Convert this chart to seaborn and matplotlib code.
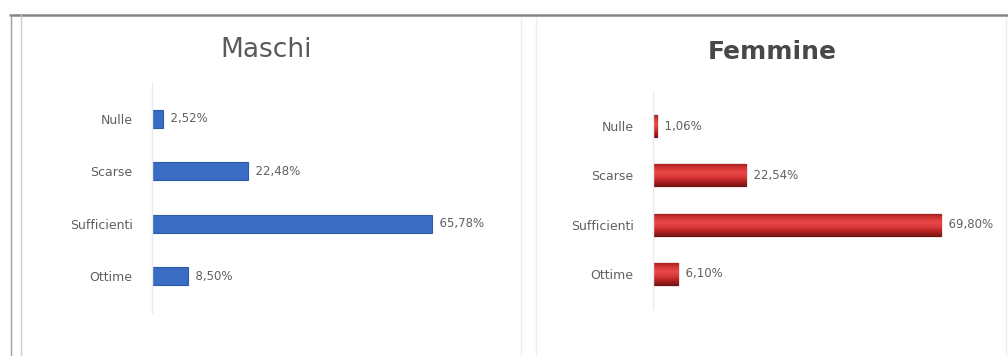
import numpy as np
import matplotlib
matplotlib.use("Agg")
import matplotlib.pyplot as plt
from matplotlib.lines import Line2D
from matplotlib.colors import LinearSegmentedColormap
import seaborn as sns
import pandas as pd

categories = ["Nulle", "Scarse", "Sufficienti", "Ottime"]
maschi = [2.52, 22.48, 65.78, 8.50]
femmine = [1.06, 22.54, 69.80, 6.10]

sns.set_theme(style="white")
plt.rcParams["font.family"] = ["DejaVu Sans"]

W, H = 1008, 356
fig = plt.figure(figsize=(W / 100, H / 100), dpi=100)
fig.patch.set_facecolor("white")


def px_axes(left, top, right, bottom):
    return fig.add_axes([left / W, 1 - bottom / H, (right - left) / W, (bottom - top) / H])


def pct(v):
    return f"{v:.2f}".replace(".", ",") + "%"


def style_axes(ax, xmax, pad):
    ax.set_xlim(0, xmax)
    ax.set_ylim(3.7, -0.7)
    ax.set_xlabel("")
    ax.set_ylabel("")
    ax.set_xticks([])
    for s in ["top", "right", "bottom"]:
        ax.spines[s].set_visible(False)
    ax.spines["left"].set_color("#ececec")
    ax.spines["left"].set_linewidth(1.0)
    ax.tick_params(axis="y", length=0, pad=pad, labelsize=9, labelcolor="#606060")
    ax.set_facecolor("none")


# Maschi panel
ax1 = px_axes(152, 82, 152 + 80 * 4.257, 313)
df_m = pd.DataFrame({"cat": categories, "val": maschi})
sns.barplot(data=df_m, x="val", y="cat", ax=ax1, color="#3b6cc4",
            width=0.35, edgecolor="#2f5aa6", linewidth=0.8, saturation=1)
style_axes(ax1, 80, 14)
for p, v in zip(ax1.patches, maschi):
    ax1.text(v, p.get_y() + p.get_height() / 2, "  " + pct(v), va="center",
             ha="left", fontsize=8.5, color="#606060")
fig.text(266 / W, 1 - 50 / H, "Maschi", ha="center", va="center",
         fontsize=19, color="#5a5a5a")

# Femmine panel
ax2 = px_axes(653, 91.5, 653 + 82 * 4.13, 308.5)
df_f = pd.DataFrame({"cat": categories, "val": femmine})
sns.barplot(data=df_f, x="val", y="cat", ax=ax2, color="#d23a3a",
            width=0.45, edgecolor="#6e1212", linewidth=0.9, saturation=1)
style_axes(ax2, 82, 14)
red_grad = LinearSegmentedColormap.from_list(
    "rg", ["#9a1c1c", "#d23434", "#e84848", "#dc3b3b", "#b42222", "#7e1515"])
grad = np.linspace(0, 1, 64).reshape(-1, 1)
for p in ax2.patches:
    x0, y0 = p.get_x(), p.get_y()
    x1, y1 = x0 + p.get_width(), y0 + p.get_height()
    im = ax2.imshow(grad, cmap=red_grad, aspect="auto",
                    extent=[x0, x1, y1, y0], zorder=p.get_zorder() + 0.1,
                    interpolation="bilinear")
    im.set_clip_path(p)
ax2.set_xlim(0, 82)
ax2.set_ylim(3.7, -0.7)
for p, v in zip(ax2.patches, femmine):
    ax2.text(v, p.get_y() + p.get_height() / 2, "  " + pct(v), va="center",
             ha="left", fontsize=8.5, color="#606060")
fig.text(772 / W, 1 - 52 / H, "Femmine", ha="center", va="center",
         fontsize=18, fontweight="bold", color="#484848")

# Frame lines around the panels
def fig_line(x0, y0, x1, y1, color, lw):
    fig.add_artist(Line2D([x0 / W, x1 / W], [1 - y0 / H, 1 - y1 / H],
                          color=color, linewidth=lw, transform=fig.transFigure))

fig_line(10, 15, W, 15, "#858585", 1.8)
fig_line(11, 15, 11, H, "#a0a0a0", 1.0)
fig_line(21, 15, 21, H, "#cfcfcf", 1.0)
fig_line(521, 17, 521, H, "#eeeeee", 1.0)
fig_line(536, 17, 536, H, "#eeeeee", 1.0)
fig_line(1006, 17, 1006, H, "#eeeeee", 1.0)

fig.savefig("out.png", dpi=100, facecolor="white")
